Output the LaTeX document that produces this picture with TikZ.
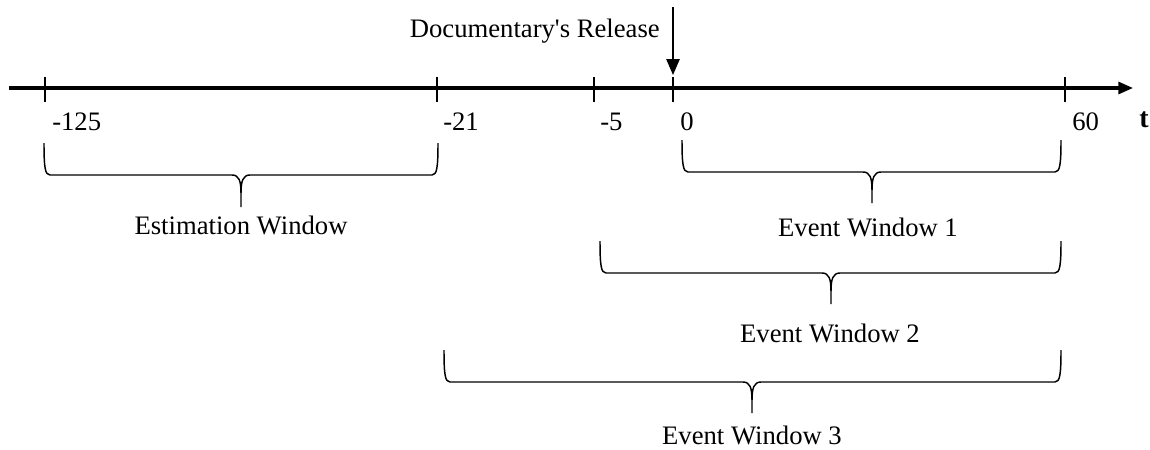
\documentclass[tikz,border=0pt]{standalone}
\usepackage{fontspec}
\setmainfont{Liberation Serif}
\newfontfamily\plainserif{Liberation Serif}[Ligatures=TeXOff]
\usetikzlibrary{arrows.meta}
\tikzset{
  axisline/.style={line width=2.3pt},
  tickline/.style={line width=1.8pt},
  bracepath/.style={line width=1.1pt, line join=round},
  ticklabel/.style={anchor=base west, inner sep=0pt, font=\fontsize{20}{24}\selectfont},
  winlabel/.style={anchor=base, inner sep=0pt, font=\fontsize{20}{24}\selectfont},
}
\newcommand{\mybrace}[6]{% xL xR yT yH xM yB
  \draw[bracepath] (#1,#3) .. controls (#1,#4-8) and (#1+1,#4) .. (#1+6,#4)
     -- (#5-9,#4) .. controls (#5-2,#4) and (#5,#4+6) .. (#5,#4+18) -- (#5,#6);
  \draw[bracepath] (#5,#4+18) .. controls (#5,#4+6) and (#5+2,#4) .. (#5+9,#4)
     -- (#2-6,#4) .. controls (#2-1,#4) and (#2,#4-8) .. (#2,#3);
}
\begin{document}
\begin{tikzpicture}[x=0.75pt,y=-0.75pt]
\useasboundingbox (0,0) rectangle (1150,450);
% axis
\coordinate (astart) at (9,88);
\coordinate (aend) at (1133,88);
\draw[axisline,-{Triangle[length=11pt,width=9pt]}] (astart) -- (aend);
\node[anchor=base west, inner sep=0pt, font=\fontsize{21}{24}\selectfont\bfseries] (tlab) at (1139,127) {t};
% ticks
\foreach \x/\n in {45/m125,437/m21,594/m5,673/z,1065/sixty}{
  \coordinate (top\n) at (\x,77);
  \coordinate (bot\n) at (\x,102);
  \draw[tickline] (top\n) -- (bot\n);
}
\node[ticklabel] (l125) at (52,130) {-125};
\node[ticklabel] (l21) at (443,130) {-21};
\node[ticklabel] (l5) at (600,130) {-5};
\node[ticklabel] (l0) at (680,130) {0};
\node[ticklabel] (l60) at (1072,130) {60};
% release arrow
\node[anchor=base east, inner sep=0pt, font=\plainserif\fontsize{20}{24}\selectfont] (doc) at (660,37) {Documentary's Release};
\coordinate (arrtop) at (673,7);
\coordinate (arrbot) at (673,75);
\draw[line width=1.3pt,-{Triangle[length=12pt,width=10pt]}] (arrtop) -- (arrbot);
% braces
\mybrace{44}{438}{143}{175}{241}{207}
\node[winlabel] (est) at (241,234) {Estimation Window};
\mybrace{682}{1061}{140}{172}{872}{203}
\node[winlabel] (ew1) at (868,236) {Event Window 1};
\mybrace{600}{1061}{241}{273}{831}{304}
\node[winlabel] (ew2) at (830,342) {Event Window 2};
\mybrace{444}{1061}{350}{382}{752}{413}
\node[winlabel] (ew3) at (752,444) {Event Window 3};
\end{tikzpicture}
\end{document}
